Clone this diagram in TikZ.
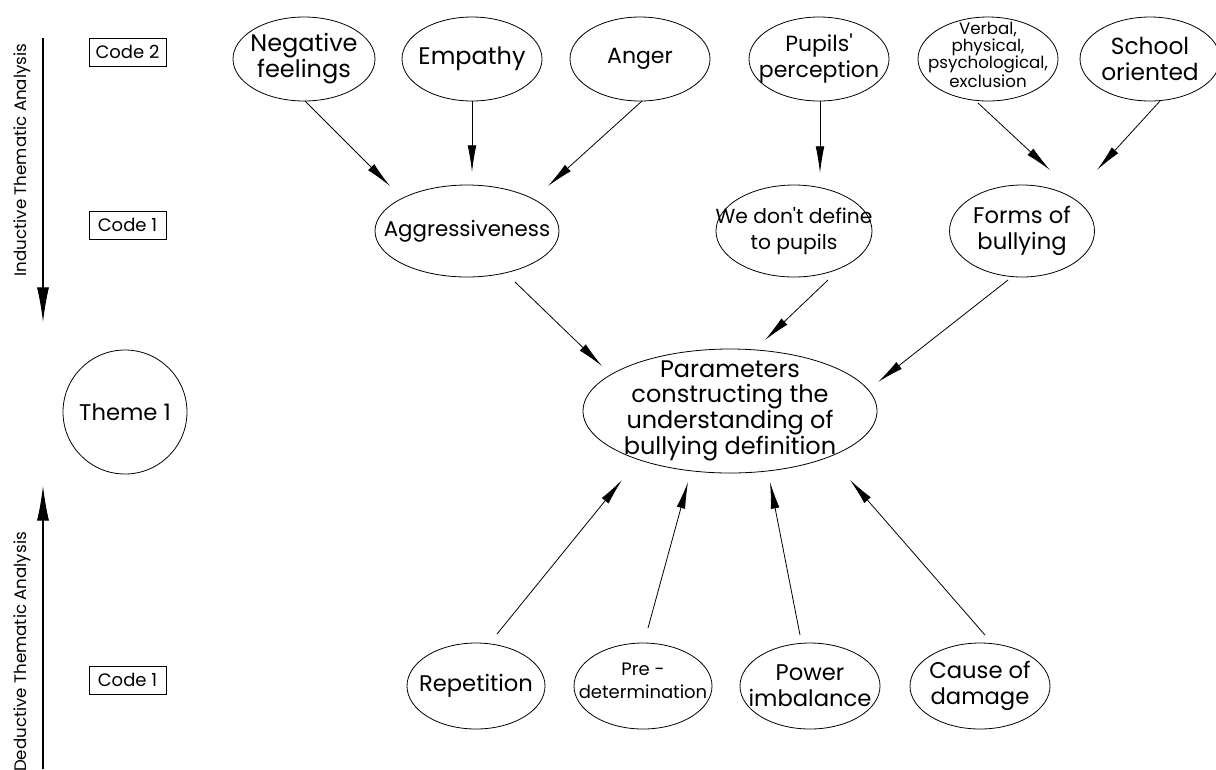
\documentclass[tikz,border=0pt]{standalone}
\usepackage{fontspec}
\setmainfont{Poppins}
\usetikzlibrary{arrows.meta,calc,shapes.geometric}
\newcommand{\fs}[2]{\fontsize{#1}{#2}\selectfont}
\begin{document}
\begin{tikzpicture}[x=0.75pt,y=-0.75pt,
  ell/.style 2 args={ellipse,draw,line width=0.6pt,inner sep=0pt,
    minimum width=#1*0.75pt,minimum height=#2*0.75pt},
  txt/.style={align=center,inner sep=0pt,font=\fs{17}{19.5}},
  smalltxt/.style={align=center,inner sep=0pt,font=\fs{12.5}{12.8}},
  codebox/.style={draw,line width=0.6pt,minimum width=57.75pt,minimum height=21pt,
    inner sep=0pt,font=\fs{13.5}{15}},
  arr/.style={-{Latex[length=20pt,width=6.5pt]},line width=0.6pt},
  axarr/.style={-{Latex[length=26pt,width=9pt]},line width=0.8pt},
  axlbl/.style={rotate=90,inner sep=0pt,font=\fs{12.5}{15}}]
\useasboundingbox (0,0) rectangle (1216,769);

% code boxes
\node[codebox] (c2) at (127.5,52) {Code 2};
\node[codebox] (c1a) at (127.5,225) {Code 1};
\node[codebox] (c1b) at (127.5,680) {Code 1};

% axis arrows and labels
\coordinate (iA) at (43,38);
\coordinate (iB) at (43,322);
\draw[axarr] (iA) -- (iB);
\node[axlbl] (ilbl) at (22,160) {Inductive Thematic Analysis};
\coordinate (dA) at (43,769);
\coordinate (dB) at (43,486);
\draw[axarr] (dA) -- (dB);
\node[axlbl] (dlbl) at (22,652) {Deductive Thematic Analysis};

% theme
\node[circle,draw,line width=0.6pt,minimum size=93pt,inner sep=0pt,
  font=\fs{17}{19.5}] (theme) at (125,412) {Theme 1};

% code 2 row
\node[ell={142}{84},label={[txt,font=\fs{18}{19.5}]center:Negative\\feelings}] (neg) at (304,59) {};
\node[ell={140}{84},label={[txt,font=\fs{18}{19.5}]center:Empathy}] (emp) at (472,59) {};
\node[ell={140}{84},label={[txt,font=\fs{16.5}{19.5}]center:Anger}] (ang) at (640,59) {};
\node[ell={140}{84},label={[txt,font=\fs{16.5}{19.5}]center:Pupils\textquotesingle\\perception}] (pup) at (819,59) {};
\node[ell={140}{84},label={[smalltxt,yshift=3pt]center:Verbal,\\physical,\\psychological,\\exclusion}] (verb) at (988,59) {};
\node[ell={140}{84},label={[txt,font=\fs{17.5}{20}]center:School\\oriented}] (sch) at (1150,59) {};

% code 1 row
\node[ell={184}{92},label={[txt,font=\fs{16}{19.5}]center:Aggressiveness}] (agg) at (467,231) {};
\node[ell={156}{92},label={[txt,font=\fs{15.2}{19.5}]center:We don\textquotesingle t define\\to pupils}] (wdd) at (794,231) {};
\node[ell={145}{92},label={[txt]center:Forms of\\bullying}] (forms) at (1022,231) {};

% central
\node[ell={294}{124},label={[align=center,inner sep=0pt,font=\fs{18}{18.5}]center:Parameters\\constructing the\\understanding of\\bullying definition}] (par) at (730,411) {};

% deductive row
\node[ell={138}{86},label={[txt]center:Repetition}] (rep) at (476,686) {};
\node[ell={138}{86},label={[smalltxt,font=\fs{13.5}{17},yshift=4pt]center:Pre -\\determination}] (pre) at (643,686) {};
\node[ell={140}{86},label={[txt]center:Power\\imbalance}] (pow) at (810,686) {};
\node[ell={140}{86},label={[txt]center:Cause of\\damage}] (cau) at (980,686) {};

% connectors
\draw[arr] ($(neg)+(1,42)$) -- ($(agg)+(-77,-45)$);
\draw[arr] ($(emp)+(0,42)$) -- ($(agg)+(5,-59)$);
\draw[arr] ($(ang)+(2,42)$) -- ($(agg)+(81,-45)$);
\draw[arr] ($(pup)+(1,42)$) -- ($(wdd)+(26,-58)$);
\draw[arr] ($(verb)+(-10,44)$) -- ($(forms)+(28,-61)$);
\draw[arr] ($(sch)+(10,42)$) -- ($(forms)+(75,-61)$);
\draw[arr] ($(agg)+(48,51)$) -- ($(par)+(-128,-45)$);
\draw[arr] ($(wdd)+(34,49)$) -- ($(par)+(35,-71)$);
\draw[arr] ($(forms)+(-14,49)$) -- ($(par)+(148,-29)$);
\draw[arr] ($(rep)+(21,-52)$) -- ($(par)+(-108,69)$);
\draw[arr] ($(pre)+(5,-58)$) -- ($(par)+(-42,71)$);
\draw[arr] ($(pow)+(-10,-51)$) -- ($(par)+(40,71)$);
\draw[arr] ($(cau)+(5,-51)$) -- ($(par)+(120,69)$);
\end{tikzpicture}
\end{document}
